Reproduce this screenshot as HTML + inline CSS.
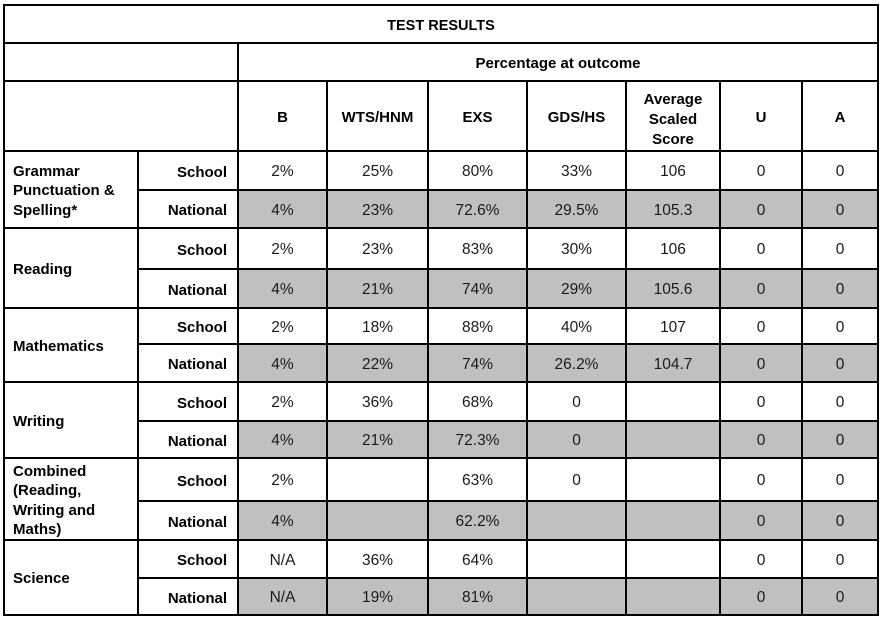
<!DOCTYPE html>
<html><head><meta charset="utf-8"><style>
html,body{margin:0;padding:0;background:#fff;}
#w{position:relative;width:885px;height:620px;overflow:hidden;background:#fff;font-family:"Liberation Sans",sans-serif;color:#111;}
.h{position:absolute;height:2px;background:#000;}
.v{position:absolute;width:2px;background:#000;}
.f{position:absolute;left:239px;width:638px;background:#c0c0c0;}
.c{position:absolute;box-sizing:border-box;padding-top:3px;display:flex;align-items:center;justify-content:center;font-size:15.5px;white-space:nowrap;text-align:center;color:#1a1a1a;}
.bd{font-weight:bold;color:#000;font-size:15px;}
.b{left:239px;width:87px}.w{left:328px;width:99px}.e{left:429px;width:97px}.g{left:528px;width:97px}.s{left:627px;width:92px}.u{left:721px;width:80px}.a{left:803px;width:74px}
.lab{position:absolute;box-sizing:border-box;padding-top:3px;left:139px;width:88px;display:flex;align-items:center;justify-content:flex-end;font-size:15px;font-weight:bold;color:#000;}
.sub{position:absolute;box-sizing:border-box;padding-top:3px;left:5px;width:132px;padding-left:8px;display:flex;align-items:center;font-size:15px;font-weight:bold;color:#000;line-height:19.5px;}
.r1{top:152px;height:37px}.r2{top:191px;height:36px}.r3{top:229px;height:39px}.r4{top:270px;height:37px}.r5{top:309px;height:34px}.r6{top:345px;height:36px}.r7{top:383px;height:37px}.r8{top:422px;height:35px}.r9{top:459px;height:41px}.r10{top:502px;height:37px}.r11{top:541px;height:36px}.r12{top:579px;height:35px}
</style></head><body><div id="w">
<!-- gray fills -->
<div class="f r2"></div><div class="f r4"></div><div class="f r6"></div><div class="f r8"></div><div class="f r10"></div><div class="f r12"></div>
<!-- horizontal lines -->
<div class="h" style="top:4px;left:3px;width:876px"></div>
<div class="h" style="top:42px;left:3px;width:876px"></div>
<div class="h" style="top:80px;left:3px;width:876px"></div>
<div class="h" style="top:150px;left:3px;width:876px"></div>
<div class="h" style="top:189px;left:137px;width:742px"></div>
<div class="h" style="top:227px;left:3px;width:876px"></div>
<div class="h" style="top:268px;left:137px;width:742px"></div>
<div class="h" style="top:307px;left:3px;width:876px"></div>
<div class="h" style="top:343px;left:137px;width:742px"></div>
<div class="h" style="top:381px;left:3px;width:876px"></div>
<div class="h" style="top:420px;left:137px;width:742px"></div>
<div class="h" style="top:457px;left:3px;width:876px"></div>
<div class="h" style="top:500px;left:137px;width:742px"></div>
<div class="h" style="top:539px;left:3px;width:876px"></div>
<div class="h" style="top:577px;left:137px;width:742px"></div>
<div class="h" style="top:614px;left:3px;width:876px"></div>
<!-- vertical lines -->
<div class="v" style="left:3px;top:4px;height:612px"></div>
<div class="v" style="left:877px;top:4px;height:612px"></div>
<div class="v" style="left:137px;top:150px;height:466px"></div>
<div class="v" style="left:237px;top:42px;height:574px"></div>
<div class="v" style="left:326px;top:80px;height:536px"></div>
<div class="v" style="left:427px;top:80px;height:536px"></div>
<div class="v" style="left:526px;top:80px;height:536px"></div>
<div class="v" style="left:625px;top:80px;height:536px"></div>
<div class="v" style="left:719px;top:80px;height:536px"></div>
<div class="v" style="left:801px;top:80px;height:536px"></div>
<!-- headers -->
<div class="c bd" style="left:5px;width:872px;top:6px;height:36px;font-size:14.5px;">TEST RESULTS</div>
<div class="c bd" style="left:239px;width:638px;top:44px;height:36px;">Percentage at outcome</div>
<div class="c bd b" style="top:82px;height:68px">B</div>
<div class="c bd w" style="top:82px;height:68px">WTS/HNM</div>
<div class="c bd e" style="top:82px;height:68px">EXS</div>
<div class="c bd g" style="top:82px;height:68px">GDS/HS</div>
<div class="c bd s" style="top:82px;height:68px;line-height:20px;white-space:normal;padding-top:7px">Average<br>Scaled<br>Score</div>
<div class="c bd u" style="top:82px;height:68px">U</div>
<div class="c bd a" style="top:82px;height:68px">A</div>
<!-- subject labels -->
<div class="sub" style="top:152px;height:75px">Grammar<br>Punctuation &amp;<br>Spelling*</div>
<div class="sub" style="top:229px;height:78px">Reading</div>
<div class="sub" style="top:309px;height:72px">Mathematics</div>
<div class="sub" style="top:383px;height:74px">Writing</div>
<div class="sub" style="top:459px;height:80px">Combined<br>(Reading,<br>Writing and<br>Maths)</div>
<div class="sub" style="top:541px;height:73px">Science</div>
<!-- School / National labels -->
<div class="lab r1">School</div><div class="lab r2">National</div>
<div class="lab r3">School</div><div class="lab r4">National</div>
<div class="lab r5">School</div><div class="lab r6">National</div>
<div class="lab r7">School</div><div class="lab r8">National</div>
<div class="lab r9">School</div><div class="lab r10">National</div>
<div class="lab r11">School</div><div class="lab r12">National</div>
<!-- data -->
<div class="c b r1">2%</div><div class="c w r1">25%</div><div class="c e r1">80%</div><div class="c g r1">33%</div><div class="c s r1">106</div><div class="c u r1">0</div><div class="c a r1">0</div>
<div class="c b r2">4%</div><div class="c w r2">23%</div><div class="c e r2">72.6%</div><div class="c g r2">29.5%</div><div class="c s r2">105.3</div><div class="c u r2">0</div><div class="c a r2">0</div>
<div class="c b r3">2%</div><div class="c w r3">23%</div><div class="c e r3">83%</div><div class="c g r3">30%</div><div class="c s r3">106</div><div class="c u r3">0</div><div class="c a r3">0</div>
<div class="c b r4">4%</div><div class="c w r4">21%</div><div class="c e r4">74%</div><div class="c g r4">29%</div><div class="c s r4">105.6</div><div class="c u r4">0</div><div class="c a r4">0</div>
<div class="c b r5">2%</div><div class="c w r5">18%</div><div class="c e r5">88%</div><div class="c g r5">40%</div><div class="c s r5">107</div><div class="c u r5">0</div><div class="c a r5">0</div>
<div class="c b r6">4%</div><div class="c w r6">22%</div><div class="c e r6">74%</div><div class="c g r6">26.2%</div><div class="c s r6">104.7</div><div class="c u r6">0</div><div class="c a r6">0</div>
<div class="c b r7">2%</div><div class="c w r7">36%</div><div class="c e r7">68%</div><div class="c g r7">0</div><div class="c u r7">0</div><div class="c a r7">0</div>
<div class="c b r8">4%</div><div class="c w r8">21%</div><div class="c e r8">72.3%</div><div class="c g r8">0</div><div class="c u r8">0</div><div class="c a r8">0</div>
<div class="c b r9">2%</div><div class="c e r9">63%</div><div class="c g r9">0</div><div class="c u r9">0</div><div class="c a r9">0</div>
<div class="c b r10">4%</div><div class="c e r10">62.2%</div><div class="c u r10">0</div><div class="c a r10">0</div>
<div class="c b r11">N/A</div><div class="c w r11">36%</div><div class="c e r11">64%</div><div class="c u r11">0</div><div class="c a r11">0</div>
<div class="c b r12">N/A</div><div class="c w r12">19%</div><div class="c e r12">81%</div><div class="c u r12">0</div><div class="c a r12">0</div>
</div></body></html>
